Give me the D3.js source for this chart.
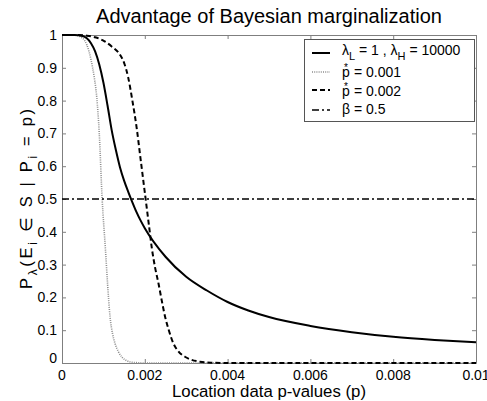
<!DOCTYPE html>
<html>
<head>
<meta charset="utf-8">
<script src="https://cdn.jsdelivr.net/npm/d3@7"></script>
<style>
  body { margin: 0; background: #fff; }
  text { font-family: "Liberation Sans", Arial, sans-serif; }
</style>
</head>
<body>
<svg width="487" height="401"></svg>
<script>
const svg = d3.select("svg");
const width = +svg.attr("width");
const height = +svg.attr("height");

// data
const xTicks = [0, 0.002, 0.004, 0.006, 0.008, 0.01];
const xTickLabels = ["0", "0.002", "0.004", "0.006", "0.008", "0.01"];
const yTicks = [0, 0.1, 0.2, 0.3, 0.4, 0.5, 0.6, 0.7, 0.8, 0.9, 1];
const yTickLabels = ["0", "0.1", "0.2", "0.3", "0.4", "0.5", "0.6", "0.7", "0.8", "0.9", "1"];

// lambda_L = 1, lambda_H = 10000
const margP = [0, 0.0003, 0.0005, 0.0006, 0.0007, 0.0008, 0.0009, 0.001, 0.0011, 0.0012, 0.0013,
  0.0014, 0.0015, 0.0016, 0.0017, 0.0018, 0.0019, 0.002, 0.0025, 0.003, 0.0035, 0.004, 0.0045,
  0.005, 0.006, 0.007, 0.008, 0.009, 0.01];
const margV = [1, 1, 0.997, 0.99, 0.975, 0.95, 0.91, 0.855, 0.785, 0.71, 0.65,
  0.597, 0.556, 0.522, 0.49, 0.46, 0.434, 0.411, 0.324, 0.263, 0.221, 0.186, 0.160,
  0.140, 0.113, 0.094, 0.080, 0.0703, 0.063];

// p* = 0.001
const p1P = [0, 0.0003, 0.0005, 0.0006, 0.0007, 0.00078, 0.00084, 0.0009, 0.00097, 0.00105, 0.0011,
  0.00116, 0.00122, 0.00128, 0.00136, 0.00144, 0.00155, 0.00165, 0.0018, 0.002, 0.01];
const p1V = [1, 1, 0.99, 0.97, 0.925, 0.87, 0.81, 0.70, 0.5, 0.345, 0.243,
  0.141, 0.09, 0.06, 0.035, 0.019, 0.008, 0.003, 0.001, 0, 0];

// p* = 0.002
const p2P = [0, 0.0004, 0.0006, 0.0008, 0.001, 0.0012, 0.0014, 0.0015, 0.0016, 0.0017, 0.0018, 0.0019,
  0.002, 0.0021, 0.00217, 0.00225, 0.00233, 0.00241, 0.00249, 0.00258, 0.00269, 0.0028, 0.00297,
  0.0031, 0.00333, 0.0036, 0.004, 0.01];
const p2V = [1, 1, 0.998, 0.993, 0.983, 0.965, 0.94, 0.915, 0.87, 0.80, 0.72, 0.62,
  0.52, 0.42, 0.35, 0.29, 0.243, 0.19, 0.141, 0.10, 0.06, 0.037, 0.019,
  0.011, 0.004, 0.001, 0, 0];

const betaLevel = 0.5;

const margin = { left: 62, right: 11, top: 35, bottom: 38 };
const x = d3.scaleLinear().domain([0, 0.01]).range([margin.left, width - margin.right]);
const y = d3.scaleLinear().domain([0, 1]).range([height - margin.bottom, margin.top]);

const axisColor = "#7f7f7f";
const tickLen = 4;

// axes box with inward ticks on all sides
svg.append("g")
  .attr("transform", `translate(0,${y(0)})`)
  .call(d3.axisBottom(x).tickValues(xTicks).tickSizeInner(-tickLen).tickSizeOuter(0).tickFormat(""))
  .call(g => g.selectAll("line,path").attr("stroke", axisColor));
svg.append("g")
  .attr("transform", `translate(0,${y(1)})`)
  .call(d3.axisTop(x).tickValues(xTicks).tickSizeInner(-tickLen).tickSizeOuter(0).tickFormat(""))
  .call(g => g.selectAll("line,path").attr("stroke", axisColor));
svg.append("g")
  .attr("transform", `translate(${x(0)},0)`)
  .call(d3.axisLeft(y).tickValues(yTicks).tickSizeInner(-tickLen).tickSizeOuter(0).tickFormat(""))
  .call(g => g.selectAll("line,path").attr("stroke", axisColor));
svg.append("g")
  .attr("transform", `translate(${x(0.01)},0)`)
  .call(d3.axisRight(y).tickValues(yTicks).tickSizeInner(-tickLen).tickSizeOuter(0).tickFormat(""))
  .call(g => g.selectAll("line,path").attr("stroke", axisColor));

// tick labels
svg.append("g").selectAll("text")
  .data(xTicks)
  .join("text")
  .attr("x", d => x(d))
  .attr("y", y(0) + 17)
  .attr("text-anchor", "middle")
  .attr("font-size", 14)
  .text((d, i) => xTickLabels[i]);

svg.append("g").selectAll("text")
  .data(yTicks)
  .join("text")
  .attr("x", x(0) - 5)
  .attr("y", d => y(d) + 5 - (d === 0 ? 5 : 0))
  .attr("text-anchor", "end")
  .attr("font-size", 14)
  .text((d, i) => yTickLabels[i]);

// curves
const line = d3.line()
  .x(d => x(d[0]))
  .y(d => y(d[1]))
  .curve(d3.curveMonotoneX);

const plot = svg.append("g").attr("fill", "none");

plot.append("path")
  .datum(p1P.map((p, i) => [p, p1V[i]]))
  .attr("d", line)
  .attr("stroke", "#8c8c8c")
  .attr("stroke-width", 1.6)
  .attr("stroke-dasharray", "1,1.2");

plot.append("path")
  .datum(p2P.map((p, i) => [p, p2V[i]]))
  .attr("d", line)
  .attr("stroke", "#000")
  .attr("stroke-width", 2)
  .attr("stroke-dasharray", "5,3");

plot.append("path")
  .datum(margP.map((p, i) => [p, margV[i]]))
  .attr("d", line)
  .attr("stroke", "#000")
  .attr("stroke-width", 2);

plot.append("path")
  .datum([[0, betaLevel], [0.01, betaLevel]])
  .attr("d", line)
  .attr("stroke", "#000")
  .attr("stroke-width", 1.5)
  .attr("stroke-dasharray", "7,3,2,3");

// title and axis labels
svg.append("text")
  .attr("x", (x(0) + x(0.01)) / 2)
  .attr("y", 23)
  .attr("text-anchor", "middle")
  .attr("font-size", 20)
  .text("Advantage of Bayesian marginalization");

svg.append("text")
  .attr("x", (x(0) + x(0.01)) / 2)
  .attr("y", 397)
  .attr("text-anchor", "middle")
  .attr("font-size", 16.8)
  .text("Location data p-values (p)");

const yl = svg.append("text")
  .attr("transform", `translate(32,${(y(0) + y(1)) / 2}) rotate(-90)`)
  .attr("text-anchor", "middle")
  .attr("font-size", 16.5)
  .attr("textLength", 180)
  .attr("lengthAdjust", "spacing");
yl.append("tspan").text("P");
yl.append("tspan").attr("font-size", 12).attr("dy", 5).text("λ");
yl.append("tspan").attr("dy", -5).text("(E");
yl.append("tspan").attr("font-size", 12).attr("dy", 5).text("i");
yl.append("tspan").attr("dy", -5).text(" ∈ S | P");
yl.append("tspan").attr("font-size", 12).attr("dy", 5).text("i");
yl.append("tspan").attr("dy", -5).text(" = p)");

// legend
const legend = svg.append("g");
legend.append("rect")
  .attr("x", 304.5).attr("y", 39.5)
  .attr("width", 170).attr("height", 82)
  .attr("fill", "#fff")
  .attr("stroke", "#555");

const legendRows = [
  { y: 53, stroke: "#000", w: 2, dash: null },
  { y: 72, stroke: "#8c8c8c", w: 1.6, dash: "1,1.2" },
  { y: 90, stroke: "#000", w: 2, dash: "5,3" },
  { y: 110, stroke: "#000", w: 1.5, dash: "7,3,2,3" }
];
legend.selectAll("line")
  .data(legendRows)
  .join("line")
  .attr("x1", 312).attr("x2", 330)
  .attr("y1", d => d.y).attr("y2", d => d.y)
  .attr("stroke", d => d.stroke)
  .attr("stroke-width", d => d.w)
  .attr("stroke-dasharray", d => d.dash);

const t1 = legend.append("text").attr("x", 342).attr("y", 55).attr("font-size", 14);
t1.append("tspan").text("λ");
t1.append("tspan").attr("font-size", 11).attr("dy", 5).text("L");
t1.append("tspan").attr("dy", -5).text(" = 1 , λ");
t1.append("tspan").attr("font-size", 11).attr("dy", 5).text("H");
t1.append("tspan").attr("dy", -5).text(" = 10000");

[["0.001", 77], ["0.002", 96]].forEach(([v, yy]) => {
  legend.append("text").attr("x", 342).attr("y", yy).attr("font-size", 14).text("p");
  legend.append("text").attr("x", 344).attr("y", yy - 6.5).attr("font-size", 10).text("*");
  legend.append("text").attr("x", 354).attr("y", yy).attr("font-size", 14).text("= " + v);
});

legend.append("text").attr("x", 342).attr("y", 114).attr("font-size", 14).text("β = 0.5");
</script>
</body>
</html>
